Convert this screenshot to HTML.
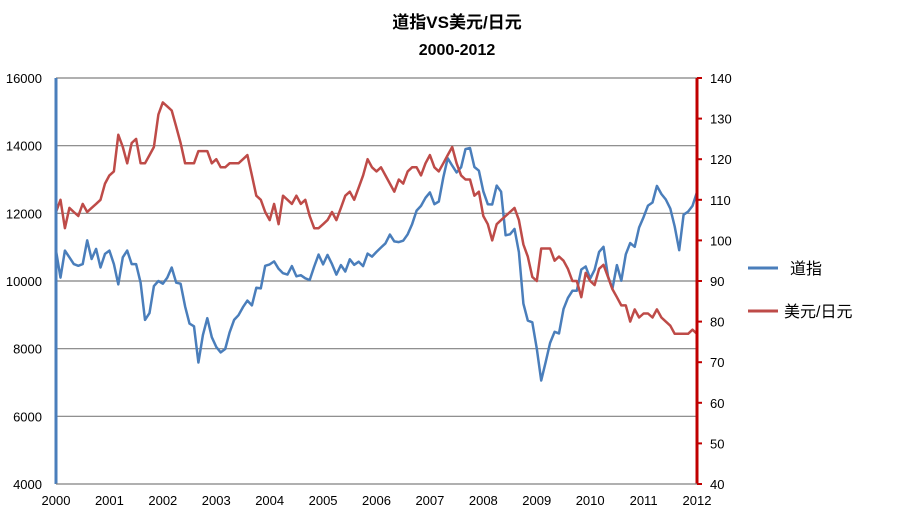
<!DOCTYPE html>
<html><head><meta charset="utf-8"><style>
html,body{margin:0;padding:0;background:#fff;}
svg{display:block;font-family:"Liberation Sans","Noto Sans CJK SC",sans-serif;}
</style></head><body>
<svg id="chart" width="915" height="513" viewBox="0 0 915 513" xmlns="http://www.w3.org/2000/svg">
<text x="457" y="28" text-anchor="middle" font-size="17" font-weight="bold" fill="#000">道指VS美元/日元</text>
<text x="457" y="55" text-anchor="middle" font-size="16" font-weight="bold" fill="#000">2000-2012</text>
<g id="grid"></g>
<g id="series"></g>
<g id="axes"></g>
<g>
<line x1="748" y1="268" x2="778" y2="268" stroke="#4a7ebb" stroke-width="3"/>
<text x="790" y="274" font-size="16" fill="#000">道指</text>
<line x1="748" y1="311" x2="778" y2="311" stroke="#be4b48" stroke-width="3"/>
<text x="784" y="317" font-size="16" fill="#000">美元/日元</text>
</g>
</svg>
<script>
const dow = [10900,10100,10900,10700,10500,10450,10500,11200,10650,10950,10400,10800,
10900,10500,9900,10700,10900,10500,10500,9950,8850,9050,9850,10000,
9920,10100,10400,9950,9920,9250,8740,8660,7590,8400,8900,8340,
8050,7890,7990,8480,8850,8990,9230,9420,9280,9800,9780,10450,
10490,10580,10360,10230,10190,10440,10140,10170,10080,10030,10430,10780,
10490,10770,10500,10190,10470,10280,10640,10480,10570,10440,10810,10720,
10860,10990,11110,11370,11170,11150,11190,11380,11680,12080,12220,12460,
12620,12270,12350,13060,13630,13410,13210,13360,13900,13930,13370,13260,
12650,12270,12260,12820,12640,11350,11380,11540,10850,9330,8830,8780,
8000,7060,7610,8170,8500,8450,9170,9500,9710,9710,10340,10430,
10070,10330,10860,11010,10140,9770,10470,10010,10790,11120,11010,11580,
11890,12230,12320,12810,12570,12410,12140,11610,10910,11960,12050,12220,12630];
const yen = [107,110,103,108,107,106,109,107,108,109,110,114,
116,117,126,123,119,124,125,119,119,121,123,131,
134,133,132,128,124,119,119,119,122,122,122,119,
120,118,118,119,119,119,120,121,116,111,110,107,
105,109,104,111,110,109,111,109,110,106,103,103,
104,105,107,105,108,111,112,110,113,116,120,118,
117,118,116,114,112,115,114,117,118,118,116,119,
121,118,117,119,121,123,119,116,115,115,111,112,
106,104,100,104,105,106,107,108,105,99,96,91,
90,98,98,98,95,96,95,93,90,90,86,92,
90,89,93,94,91,88,86,84,84,80,83,81,
82,82,81,83,81,80,79,77,77,77,77,78,77];
const leftTicks = [4000,6000,8000,10000,12000,14000,16000];
const rightTicks = [40,50,60,70,80,90,100,110,120,130,140];
const years = [2000,2001,2002,2003,2004,2005,2006,2007,2008,2009,2010,2011,2012];

const X0=56,X1=697,Y0=484,Y1=78;
const NS="http://www.w3.org/2000/svg";
const xOf = i => X0 + (X1-X0)*i/(dow.length-1);
const yL = v => Y0 - (v-4000)/(16000-4000)*(Y0-Y1);
const yR = v => Y0 - (v-40)/(140-40)*(Y0-Y1);
function mk(tag, attrs, parent){const e=document.createElementNS(NS,tag);for(const k in attrs)e.setAttribute(k,attrs[k]);parent.appendChild(e);return e;}
const grid=document.getElementById('grid'), axes=document.getElementById('axes'), series=document.getElementById('series');

leftTicks.forEach(t=>{
  if(t>4000){const g=mk('line',{x1:X0,x2:X1,y1:yL(t),y2:yL(t),stroke:'#808080','stroke-width':1.2},grid);
  
  }
  const tx=mk('text',{x:42,y:yL(t)+5,'text-anchor':'end','font-size':13,fill:'#000'},axes);
  tx.textContent=t;
  
  
});
rightTicks.forEach(t=>{
  const tk=mk('line',{x1:X1,x2:X1+5,y1:yR(t),y2:yR(t),stroke:'#c00000','stroke-width':2},axes);
  
  
  const tx=mk('text',{x:710,y:yR(t)+5,'font-size':13,fill:'#000'},axes);
  tx.textContent=t;
  
  
});
years.forEach((yv,i)=>{
  const tx=mk('text',{x:X0+(X1-X0)*i/(years.length-1),y:505,'text-anchor':'middle','font-size':13,fill:'#000'},axes);
  tx.textContent=yv;
  
  
});
const la=mk('line',{x1:X0,x2:X0,y1:Y1,y2:Y0,stroke:'#4a7ebb','stroke-width':3},axes);


const ra=mk('line',{x1:X1,x2:X1,y1:Y1,y2:Y0,stroke:'#c00000','stroke-width':3},axes);


const xa=mk('line',{x1:X0,x2:X1,y1:Y0,y2:Y0,stroke:'#808080','stroke-width':1.2},axes);



const p1=mk('polyline',{points:dow.map((v,i)=>xOf(i).toFixed(1)+','+yL(v).toFixed(1)).join(' '),fill:'none',stroke:'#4a7ebb','stroke-width':2.5,'stroke-linejoin':'round'},series);


const p2=mk('polyline',{points:yen.map((v,i)=>xOf(i).toFixed(1)+','+yR(v).toFixed(1)).join(' '),fill:'none',stroke:'#be4b48','stroke-width':2.5,'stroke-linejoin':'round'},series);


</script>
</body></html>
